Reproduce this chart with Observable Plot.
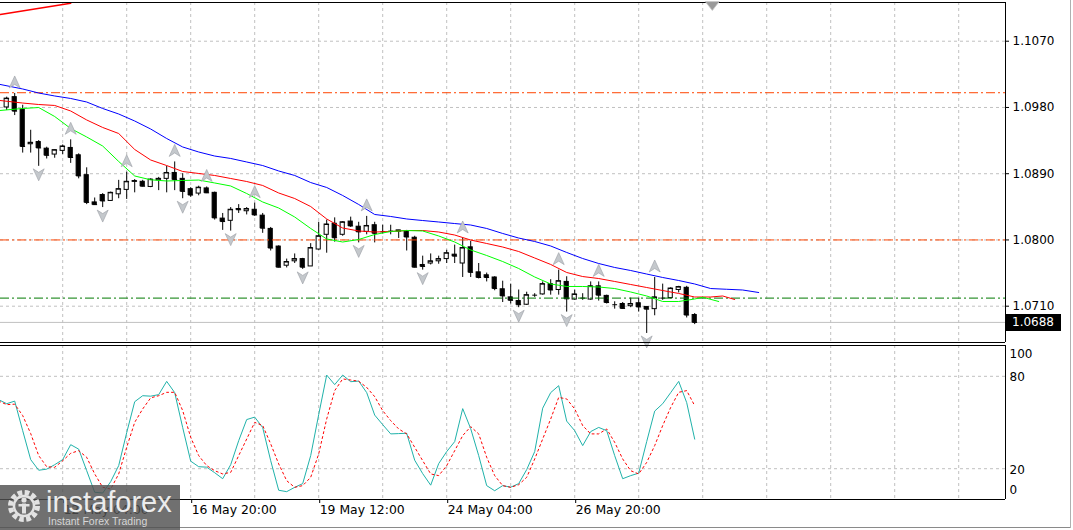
<!DOCTYPE html>
<html><head><meta charset="utf-8">
<script src="https://cdn.jsdelivr.net/npm/d3@7"></script>
<script src="https://cdn.jsdelivr.net/npm/@observablehq/plot@0.6"></script>
<style>
body{margin:0;background:#fff;}
#wrap{position:relative;width:1073px;height:530px;overflow:hidden;background:#fff;font-family:"DejaVu Sans",sans-serif;}
#main,#osc{position:absolute;left:0;}
#main{top:0;} #osc{top:345px;}
#pricebox{position:absolute;left:1006px;width:55px;height:17px;background:#000;color:#fff;font:12px "DejaVu Sans";line-height:17px;padding-left:6px;box-sizing:border-box;}
#logo{position:absolute;left:0;top:485px;width:180px;height:45px;background:rgba(80,80,80,0.82);}
#logo .big{position:absolute;left:46px;top:1px;font:29px "Liberation Sans",sans-serif;color:#ececec;letter-spacing:0px;}
#logo .small{position:absolute;left:48px;top:30px;font:10.5px "Liberation Sans",sans-serif;color:#d6d6d6;}
.hline{position:absolute;background:#8a8a8a;}
</style></head><body>
<div id="wrap"><div id="main"></div><div id="osc"></div></div>
<script>
// ---- candles (H4 bars, index 0 = 11 May 00:00) ----
const opens = [1.0980,1.0994,1.0977,1.0930,1.0933,1.0924,1.0916,1.0921,1.0925,1.0915,1.0888,1.0851,1.0861,1.0853,1.0862,1.0868,1.0879,1.0879,1.0872,1.0881,1.0883,1.0891,1.0883,1.0869,1.0863,1.0870,1.0864,1.0829,1.0826,1.0842,1.0839,1.0841,1.0833,1.0815,1.0791,1.0765,1.0771,1.0774,1.0764,1.0787,1.0807,1.0822,1.0807,1.0825,1.0818,1.0811,1.0820,1.0811,1.0812,1.0813,1.0811,1.0803,1.0766,1.0768,1.0771,1.0774,1.0780,1.0768,1.0790,1.0756,1.0752,1.0749,1.0733,1.0722,1.0717,1.0712,1.0725,1.0726,1.0740,1.0732,1.0743,1.0719,1.0721,1.0719,1.0737,1.0724,1.0712,1.0713,1.0710,1.0714,1.0709,1.0706,1.0721,1.0721,1.0732,1.0735,1.0698];
const highs = [1.0994,1.0999,1.0983,1.0949,1.0935,1.0926,1.0922,1.0929,1.0936,1.0917,1.0898,1.0857,1.0863,1.0865,1.0881,1.0892,1.0882,1.0881,1.0883,1.0885,1.0900,1.0906,1.0890,1.0871,1.0873,1.0872,1.0865,1.0836,1.0844,1.0848,1.0844,1.0850,1.0836,1.0817,1.0792,1.0774,1.0781,1.0775,1.0795,1.0824,1.0827,1.0830,1.0825,1.0831,1.0824,1.0832,1.0824,1.0820,1.0820,1.0813,1.0813,1.0805,1.0778,1.0781,1.0778,1.0786,1.0793,1.0802,1.0798,1.0768,1.0755,1.0750,1.0744,1.0740,1.0732,1.0729,1.0727,1.0743,1.0746,1.0759,1.0750,1.0732,1.0727,1.0743,1.0743,1.0725,1.0716,1.0715,1.0721,1.0721,1.0709,1.0749,1.0740,1.0735,1.0737,1.0737,1.0700];
const lows = [1.0976,1.0969,1.0918,1.0918,1.0900,1.0910,1.0911,1.0916,1.0904,1.0883,1.0848,1.0847,1.0844,1.0853,1.0856,1.0855,1.0864,1.0872,1.0871,1.0867,1.0864,1.0867,1.0856,1.0858,1.0860,1.0863,1.0827,1.0813,1.0812,1.0836,1.0834,1.0832,1.0809,1.0785,1.0762,1.0762,1.0768,1.0760,1.0764,1.0786,1.0782,1.0797,1.0805,1.0817,1.0796,1.0807,1.0796,1.0808,1.0807,1.0802,1.0785,1.0762,1.0759,1.0766,1.0767,1.0768,1.0768,1.0749,1.0749,1.0747,1.0743,1.0731,1.0715,1.0713,1.0708,1.0711,1.0722,1.0725,1.0725,1.0725,1.0702,1.0718,1.0718,1.0718,1.0717,1.0713,1.0706,1.0706,1.0708,1.0702,1.0673,1.0697,1.0718,1.0720,1.0728,1.0694,1.0685];
const closes = [1.0992,1.0975,1.0927,1.0932,1.0925,1.0915,1.0922,1.0927,1.0912,1.0887,1.0851,1.0848,1.0853,1.0864,1.0869,1.0879,1.0880,1.0873,1.0882,1.0883,1.0891,1.0882,1.0866,1.0861,1.0871,1.0864,1.0830,1.0825,1.0841,1.0841,1.0842,1.0834,1.0816,1.0789,1.0763,1.0770,1.0774,1.0763,1.0789,1.0805,1.0821,1.0803,1.0824,1.0819,1.0811,1.0819,1.0809,1.0811,1.0812,1.0812,1.0804,1.0763,1.0764,1.0771,1.0774,1.0782,1.0778,1.0789,1.0756,1.0749,1.0749,1.0734,1.0724,1.0718,1.0712,1.0725,1.0725,1.0740,1.0732,1.0744,1.0720,1.0726,1.0721,1.0737,1.0725,1.0715,1.0712,1.0707,1.0713,1.0709,1.0706,1.0722,1.0721,1.0734,1.0736,1.0698,1.0688];

// ---- Alligator (jaw / teeth / lips) ----
const jawIdx = [-0.8,2,4,6,8,10,12,14,16,18,20,22,24,26,28,30,32,34,36,38,40,42,44,46,48,50,52,54,56,58,60,62,64,66,68,70,72,74,76,78,80,82,84,86,88,90,92,94];
const jawVal = [1.10112,1.10051,1.09996,1.09956,1.09922,1.09874,1.09786,1.09711,1.09616,1.09507,1.09378,1.09263,1.09195,1.09140,1.09107,1.09059,1.09011,1.08937,1.08876,1.08780,1.08713,1.08604,1.08482,1.08346,1.08319,1.08285,1.08264,1.08244,1.08223,1.08203,1.08156,1.08088,1.08026,1.07979,1.07918,1.07830,1.07748,1.07680,1.07626,1.07585,1.07537,1.07490,1.07449,1.07402,1.07340,1.07330,1.07320,1.07286];
const teethIdx = [-0.8,2,4,6,8,10,12,14,16,18,20,22,24,26,28,30,32,34,36,38,40,42,44,46,48,50,52,54,56,58,60,62,64,66,68,70,72,74,76,78,80,82,84,86,88,89.5,91];
const teethVal = [1.09894,1.09860,1.09840,1.09827,1.09752,1.09630,1.09528,1.09446,1.09229,1.09086,1.09011,1.08930,1.08903,1.08876,1.08835,1.08794,1.08740,1.08638,1.08563,1.08454,1.08285,1.08162,1.08122,1.08108,1.08115,1.08128,1.08128,1.08108,1.08067,1.07999,1.07952,1.07904,1.07843,1.07755,1.07667,1.07558,1.07503,1.07476,1.07436,1.07395,1.07354,1.07313,1.07273,1.07225,1.07225,1.07239,1.07191];
const lipsIdx = [-0.8,2,4,6,8,10,12,14,16,18,20,22,24,26,28,30,32,34,36,38,40,42,44,46,48,50,52,54,56,58,60,62,64,66,68,70,72,74,76,78,80,82,84,86,87,89];
const lipsVal = [1.09759,1.09786,1.09799,1.09677,1.09514,1.09399,1.09276,1.09066,1.08869,1.08817,1.08801,1.08808,1.08814,1.08774,1.08733,1.08631,1.08516,1.08434,1.08312,1.08156,1.08013,1.07972,1.08006,1.08074,1.08115,1.08128,1.08122,1.08054,1.07972,1.07864,1.07789,1.07707,1.07612,1.07497,1.07402,1.07368,1.07368,1.07361,1.07340,1.07293,1.07239,1.07164,1.07164,1.07198,1.07222,1.07164];
const trendIdx = [-0.8, 8];
const trendVal = [1.11063, 1.11216];

// ---- Fractals (bar indices) ----
const fractalUp = [1,8,15,21,25,31,45,57,69,74,81];
const fractalDown = [4,12,22,28,37,44,52,64,70,80];

// ---- Horizontal levels ----
const priceTicks = [1.1070, 1.0980, 1.0890, 1.0800, 1.0710];
const orangeLevels = [1.1000, 1.0800];
const greenLevels = [1.0721];
const lastClose = 1.0688;

// ---- Stochastic (%K, %D), index -1 .. 86 ----
const stochK = [64.8,62.2,63.9,44.7,25.9,19.0,19.7,22.6,25.9,35.6,32.7,18.7,4.7,4.2,11.6,22.0,43.4,63.5,67.4,67.1,68.1,76.7,69.4,46.7,24.9,21.3,21.0,17.4,13.5,22.6,38.2,51.9,53.5,46.7,25.2,6.0,5.1,7.9,10.3,28.5,55.1,80.8,74.6,80.8,76.5,76.9,69.4,54.8,48.6,42.6,42.8,43.0,25.5,16.8,9.3,23.3,31.1,37.6,59.0,46.0,28.5,9.0,5.7,9.0,8.0,10.3,19.4,31.1,59.3,69.4,73.9,50.9,44.7,35.0,44.1,46.8,44.7,28.5,13.5,15.5,17.1,37.6,57.4,62.2,69.4,76.7,62.9,39.2];
const stochD = [63.9,61.6,61.9,54.5,42.8,28.5,21.3,20.9,25.2,30.0,31.7,27.4,16.6,7.9,6.8,16.6,33.9,50.1,58.8,66.0,67.4,69.6,69.6,57.7,40.4,28.5,22.0,18.7,16.6,17.6,28.5,39.3,50.1,48.0,36.1,23.1,12.2,7.9,9.0,14.4,29.6,52.3,70.7,78.3,77.6,76.8,72.8,66.8,57.7,51.2,45.8,42.6,33.9,25.2,16.6,15.5,22.0,31.7,41.5,47.3,42.6,27.4,15.5,9.0,7.9,9.6,14.4,26.3,39.3,52.3,66.3,65.3,58.8,48.0,42.6,42.6,45.8,37.1,26.3,18.7,16.6,24.1,35.0,48.0,59.8,69.6,70.7,60.9];
const oscGrid = [80, 20];

// ---- time axis ----
const labelBars = [7, 23, 39, 55, 71];
const dateLabels = ["12 May 04:00", "16 May 20:00", "19 May 12:00", "24 May 04:00", "26 May 20:00"];
const gridBars = d3.range(7, 125, 8);
const shiftBar = 88.2;

// ---- layout ----
const xDomain = [-0.775, 124.85];
const priceDomain = [1.066069, 1.112258];

const candles = opens.map((o, i) => ({i, o, h: highs[i], l: lows[i], c: closes[i]}));
const stoch = stochK.map((k, j) => ({i: j - 1, k, d: stochD[j]}));
const pts = (xs, ys) => xs.map((x, j) => ({x, y: ys[j]}));

const arrowUp = {draw(ctx){ctx.moveTo(0,-6.5);ctx.lineTo(5.5,5.5);ctx.lineTo(0,2);ctx.lineTo(-5.5,5.5);ctx.closePath();}};
const arrowDown = {draw(ctx){ctx.moveTo(0,6.5);ctx.lineTo(5.5,-5.5);ctx.lineTo(0,-2);ctx.lineTo(-5.5,-5.5);ctx.closePath();}};
const triDown = {draw(ctx){ctx.moveTo(-7,-3);ctx.lineTo(7,-3);ctx.lineTo(0,6);ctx.closePath();}};

const grid = {stroke: "#c0c0c0", strokeDasharray: "3,3"};
const dashDot = "9,3,2,3";
const style = {fontFamily: "DejaVu Sans", fontSize: "12px", color: "#000", background: "transparent", overflow: "visible"};

const main = Plot.plot({
  width: 1073, height: 345, marginLeft: 0, marginRight: 68, marginTop: 2, marginBottom: 3,
  x: {domain: xDomain, axis: null, label: null},
  y: {domain: priceDomain, axis: null, label: null},
  style,
  marks: [
    Plot.ruleX(gridBars, {x: d => d, ...grid}),
    Plot.ruleY(priceTicks, {y: d => d, ...grid}),
    Plot.ruleY([lastClose], {y: d => d, stroke: "#c0c0c0"}),
    Plot.ruleX(candles, {x: "i", y1: "l", y2: "h", stroke: "#000"}),
    Plot.rect(candles, {x1: d => d.i - 0.26, x2: d => d.i + 0.26, y1: "o", y2: "c",
      fill: d => d.c >= d.o ? "#fff" : "#000", stroke: "#000"}),
    Plot.link(candles, {x1: d => d.i - 0.3, x2: d => d.i + 0.3, y1: "c", y2: "c", stroke: "#000"}),
    Plot.ruleY(orangeLevels, {y: d => d, stroke: "#ff4500", strokeDasharray: dashDot}),
    Plot.ruleY(greenLevels, {y: d => d, stroke: "#007a00", strokeDasharray: dashDot}),
    Plot.line(pts(jawIdx, jawVal), {x: "x", y: "y", stroke: "#0000ff", strokeWidth: 1, clip: true}),
    Plot.line(pts(teethIdx, teethVal), {x: "x", y: "y", stroke: "#ff0000", strokeWidth: 1, clip: true}),
    Plot.line(pts(lipsIdx, lipsVal), {x: "x", y: "y", stroke: "#00ff00", strokeWidth: 1, clip: true}),
    Plot.line(pts(trendIdx, trendVal), {x: "x", y: "y", stroke: "#ff0000", strokeWidth: 1.5, clip: true}),
    Plot.dot(fractalUp.map(i => candles[i]), {x: "i", y: "h", symbol: arrowUp, r: 5, fill: "#c4c8cc", stroke: "#9a9ea4", strokeWidth: 0.6, dy: -11}),
    Plot.dot(fractalDown.map(i => candles[i]), {x: "i", y: "l", symbol: arrowDown, r: 5, fill: "#c4c8cc", stroke: "#9a9ea4", strokeWidth: 0.6, dy: 8}),
    Plot.ruleY([priceDomain[1]], {y: d => d, stroke: "#000"}),
    Plot.ruleY([priceDomain[0]], {y: d => d, stroke: "#000"}),
    Plot.ruleX([xDomain[1]], {x: d => d, stroke: "#000"}),
    Plot.dot([shiftBar], {x: d => d, y: () => priceDomain[1], symbol: triDown, r: 5, fill: "#9a9a9a", stroke: "#c8c8c8", strokeWidth: 0.8, dy: 2}),
    Plot.axisY({anchor: "right", ticks: priceTicks, tickFormat: d => d.toFixed(4), tickSize: 3, tickPadding: 4, fontSize: 12, label: null})
  ]
});
document.getElementById("main").appendChild(main);

const osc = Plot.plot({
  width: 1073, height: 185, marginLeft: 0, marginRight: 68, marginTop: 0, marginBottom: 31,
  x: {domain: xDomain, axis: null, label: null},
  y: {domain: [0, 100], axis: null, label: null},
  style,
  marks: [
    Plot.ruleX(gridBars, {x: d => d, ...grid}),
    Plot.ruleY(oscGrid, {y: d => d, ...grid}),
    Plot.line(stoch, {x: "i", y: "k", stroke: "#20b2aa", strokeWidth: 1, clip: true}),
    Plot.line(stoch, {x: "i", y: "d", stroke: "#ff0000", strokeWidth: 1, strokeDasharray: "2,3", clip: true}),
    Plot.ruleY([100], {y: d => d, stroke: "#000"}),
    Plot.ruleY([0], {y: d => d, stroke: "#000"}),
    Plot.ruleX([xDomain[1]], {x: d => d, stroke: "#000"}),
    Plot.axisX({anchor: "bottom", ticks: labelBars, tickFormat: i => dateLabels[labelBars.indexOf(i)],
      tickSize: 4, tickPadding: 2, textAnchor: "start", dx: 1, fontSize: 12.4, label: null}),
    Plot.text([100], {y: d => d, text: d => String(d), frameAnchor: "right", textAnchor: "start", dx: 4, dy: 9, fontSize: 12}),
    Plot.text(oscGrid, {y: d => d, text: d => String(d), frameAnchor: "right", textAnchor: "start", dx: 4, dy: 1, fontSize: 12}),
    Plot.text([0], {y: d => d, text: d => String(d), frameAnchor: "right", textAnchor: "start", dx: 4, dy: -9, fontSize: 12})
  ]
});
document.getElementById("osc").appendChild(osc);

// current price label, placed with the price scale
const wrap = document.getElementById("wrap");
const yPx = main.scale("y").apply(lastClose);
const pb = document.createElement("div");
pb.id = "pricebox"; pb.textContent = lastClose.toFixed(4);
pb.style.top = (yPx - 8) + "px";
wrap.appendChild(pb);

// window edges
const h1 = document.createElement("div"); h1.className = "hline";
Object.assign(h1.style, {left: "0px", top: "527px", width: "1070px", height: "1px"});
wrap.appendChild(h1);
const v1 = document.createElement("div"); v1.className = "hline";
Object.assign(v1.style, {left: "1070px", top: "0px", width: "1px", height: "528px", background: "#b0b0b0"});
wrap.appendChild(v1);

// watermark logo
const logo = document.createElement("div"); logo.id = "logo";
logo.innerHTML = `<svg width="40" height="40" style="position:absolute;left:5px;top:2px">
<circle cx="19" cy="19" r="13.5" fill="none" stroke="#e2e2e2" stroke-width="5" stroke-dasharray="4.6,2.5"/>
<circle cx="19" cy="19" r="10" fill="none" stroke="#e2e2e2" stroke-width="2.5"/>
<circle cx="19" cy="13" r="2.6" fill="#e2e2e2"/>
<rect x="17" y="16.5" width="4" height="10" fill="#e2e2e2"/>
<rect x="13.5" y="17" width="11" height="2.5" fill="#e2e2e2"/>
</svg><div class="big">instaforex</div><div class="small">Instant Forex Trading</div>`;
wrap.appendChild(logo);
</script>
</body></html>
